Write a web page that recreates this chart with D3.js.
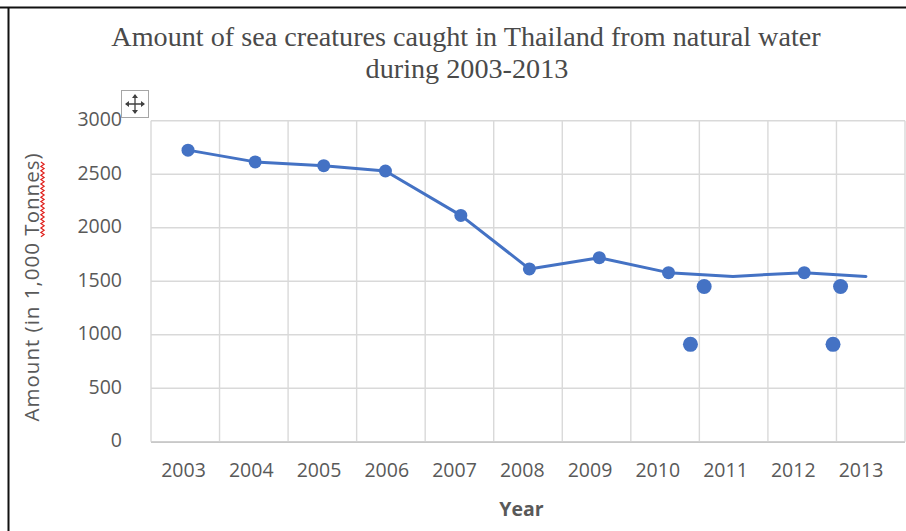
<!DOCTYPE html>
<html>
<head>
<meta charset="utf-8">
<script src="https://cdn.jsdelivr.net/npm/d3@7"></script>
<style>
  html, body { margin: 0; padding: 0; background: #fff; }
  svg { display: block; }
</style>
</head>
<body>
<svg id="chart" width="906" height="531"></svg>
<script>
// values
const yearLabels = ["2003", "2004", "2005", "2006", "2007", "2008", "2009", "2010", "2011", "2012", "2013"];
const lineYears = [2003.04, 2004.02, 2005.02, 2005.92, 2007.02, 2008.02, 2009.04, 2010.05, 2010.99, 2012.03, 2012.93];
const lineAmounts = [2725, 2615, 2580, 2530, 2115, 1615, 1720, 1580, 1545, 1580, 1545];
const lineMarked = [true, true, true, true, true, true, true, true, false, true, false];
const dotYears = [2010.57, 2010.37, 2012.56, 2012.45];
const dotAmounts = [1450, 910, 1450, 910];
const amountTicks = [0, 500, 1000, 1500, 2000, 2500, 3000];

const svg = d3.select("#chart");
const blue = "#4472c4";
const grey = "#595959";
const sans = "'Open Sans', 'Noto Sans', sans-serif";

const x = d3.scaleLinear().domain([2002.5, 2013.5]).range([151, 905]);
const labelX = d3.scalePoint().domain(yearLabels).range([183, 860.5]);
const y = d3.scaleLinear().domain([0, 3000]).range([441.7, 120.7]);

// frame edges
svg.append("line").attr("x1", 0).attr("x2", 906).attr("y1", 7.5).attr("y2", 7.5)
    .attr("stroke", "#111").attr("stroke-width", 2);
svg.append("line").attr("x1", 8.5).attr("x2", 8.5).attr("y1", 7).attr("y2", 531)
    .attr("stroke", "#111").attr("stroke-width", 2);

// grid
const grid = svg.append("g").attr("stroke", "#d9d9d9").attr("stroke-width", 1.4);
grid.selectAll("line.h").data(amountTicks).join("line").attr("class", "h")
    .attr("x1", x.range()[0]).attr("x2", x.range()[1])
    .attr("y1", d => y(d)).attr("y2", d => y(d));
grid.selectAll("line.v").data(d3.range(2002.5, 2013.6, 1)).join("line").attr("class", "v")
    .attr("x1", d => x(d)).attr("x2", d => x(d))
    .attr("y1", y(3000)).attr("y2", y(0));
svg.append("line").attr("x1", x.range()[0]).attr("x2", x.range()[1])
    .attr("y1", y(0) + 0.6).attr("y2", y(0) + 0.6)
    .attr("stroke", "#c8c8c8").attr("stroke-width", 1.6);

// y axis
const yAxis = svg.append("g").attr("transform", "translate(151,0)")
    .call(d3.axisLeft(y).tickValues(amountTicks).tickFormat(d3.format("d"))
        .tickSize(0).tickPadding(29));
yAxis.select(".domain").remove();
yAxis.selectAll("text").attr("font-family", sans).attr("font-size", 19.5)
    .attr("fill", grey).attr("dy", "0.25em");

// x axis labels
const xAxis = svg.append("g").attr("transform", `translate(0,${y(0)})`)
    .call(d3.axisBottom(labelX).tickSize(0).tickPadding(21));
xAxis.select(".domain").remove();
xAxis.selectAll("text").attr("font-family", sans).attr("font-size", 19.5).attr("fill", grey);

// line + markers
const line = d3.line().x((d, i) => x(lineYears[i])).y(d => y(d));
svg.append("path").datum(lineAmounts).attr("d", line)
    .attr("fill", "none").attr("stroke", blue).attr("stroke-width", 3)
    .attr("stroke-linejoin", "round").attr("stroke-linecap", "round");
svg.append("g").selectAll("circle").data(lineAmounts.map((v, i) => i).filter(i => lineMarked[i]))
    .join("circle")
    .attr("cx", i => x(lineYears[i])).attr("cy", i => y(lineAmounts[i]))
    .attr("r", 6.5).attr("fill", blue);
svg.append("g").selectAll("circle").data(dotAmounts).join("circle")
    .attr("cx", (d, i) => x(dotYears[i])).attr("cy", d => y(d))
    .attr("r", 7.5).attr("fill", blue);

// title
const title = svg.append("text").attr("text-anchor", "middle")
    .attr("font-family", "'Liberation Serif', 'Times New Roman', serif")
    .attr("font-size", 28.2).attr("fill", "#4a4a4a");
title.append("tspan").attr("x", 466).attr("y", 46)
    .text("Amount of sea creatures caught in Thailand from natural water");
title.append("tspan").attr("x", 467).attr("y", 78).text("during 2003-2013");

// axis titles
const yTitleLen = 268;
const yTitleG = svg.append("g").attr("transform", "translate(32,287.5) rotate(-90)");
const yTitle = yTitleG.append("text").attr("text-anchor", "middle").attr("dy", "0.35em")
    .attr("font-family", sans).attr("font-size", 20.5).attr("fill", grey)
    .attr("textLength", yTitleLen).attr("lengthAdjust", "spacing")
    .text("Amount (in 1,000 Tonnes)");

// red spell-check squiggle under "Tonnes"
const node = yTitle.node();
const nat = node.getSubStringLength(0, 24);
const k = yTitleLen / nat;
const start = -yTitleLen / 2 + node.getSubStringLength(0, 17) * k;
const end = start + node.getSubStringLength(17, 6) * k;
const wave = [];
for (let t = start, i = 0; t <= end; t += 2.2, i++) wave.push([t, 10.5 + (i % 2 ? 1.6 : -1.6)]);
yTitleG.append("path").attr("d", d3.line()(wave))
    .attr("fill", "none").attr("stroke", "#e0201c").attr("stroke-width", 1.2);

svg.append("text").attr("x", 521.5).attr("y", 516).attr("text-anchor", "middle")
    .attr("font-family", sans).attr("font-size", 19.5).attr("font-weight", "bold")
    .attr("fill", grey).text("Year");

// move handle
const handle = svg.append("g").attr("transform", "translate(121,90)");
handle.append("rect").attr("x", 0.5).attr("y", 0.5).attr("width", 27).attr("height", 27)
    .attr("fill", "#fff").attr("stroke", "#a6a6a6");
const c = 14;
handle.append("path")
    .attr("d", `M${c - 9},${c}H${c + 9}M${c},${c - 9}V${c + 9}`)
    .attr("stroke", "#404040").attr("stroke-width", 1.3);
handle.append("path")
    .attr("d", `M${c},${c - 10}l-3,4h6zM${c},${c + 10}l-3,-4h6zM${c - 10},${c}l4,-3v6zM${c + 10},${c}l-4,-3v6z`)
    .attr("fill", "#404040");
</script>
</body>
</html>
